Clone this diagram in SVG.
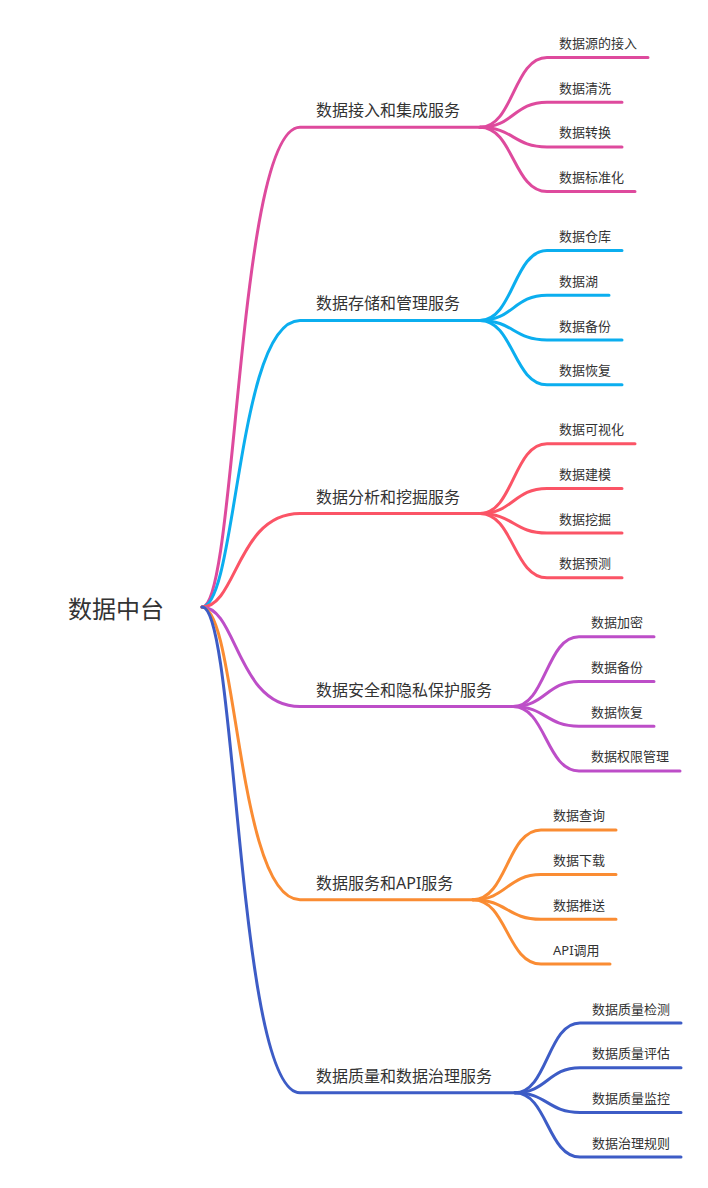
<svg xmlns="http://www.w3.org/2000/svg" width="708" height="1188" viewBox="0 0 708 1188">
<style>
text{font-family:"Noto Sans","Noto Sans CJK SC",sans-serif;fill:#333}
.root{font-size:24px}
.br{font-size:16px}
.lf{font-size:13px}
path{fill:none;stroke-width:3;stroke-linecap:round}
.c1{stroke:#DE4A9D}.c2{stroke:#0BAEEF}.c3{stroke:#FB5466}.c4{stroke:#BD4EC8}.c5{stroke:#FA8C33}.c6{stroke:#3D5CC6}
</style>
<rect width="708" height="1188" fill="#fff"/>
<g id="connectors">
<path class="c1" d="M202,607 C237,607 237,127.3 300,127.3 L480,127.3"/>
<path class="c2" d="M202,607 C237,607 237,320.4 300,320.4 L480,320.4"/>
<path class="c3" d="M202,607 C237,607 237,513.5 300,513.5 L480,513.5"/>
<path class="c4" d="M202,607 C237,607 237,706.6 300,706.6 L513,706.6"/>
<path class="c5" d="M202,607 C237,607 237,899.7 300,899.7 L473,899.7"/>
<path class="c6" d="M202,607 C237,607 237,1092.8 300,1092.8 L515,1092.8"/>

<path class="c1" d="M480,127.3 C513.5,127.3 513.5,57.5 547,57.5 L648,57.5"/>
<path class="c1" d="M480,127.3 C513.5,127.3 513.5,102.2 547,102.2 L622,102.2"/>
<path class="c1" d="M480,127.3 C513.5,127.3 513.5,146.9 547,146.9 L622,146.9"/>
<path class="c1" d="M480,127.3 C513.5,127.3 513.5,191.6 547,191.6 L635,191.6"/>

<path class="c2" d="M480,320.4 C513.5,320.4 513.5,250.6 547,250.6 L622,250.6"/>
<path class="c2" d="M480,320.4 C513.5,320.4 513.5,295.3 547,295.3 L609,295.3"/>
<path class="c2" d="M480,320.4 C513.5,320.4 513.5,340 547,340 L622,340"/>
<path class="c2" d="M480,320.4 C513.5,320.4 513.5,384.7 547,384.7 L622,384.7"/>

<path class="c3" d="M480,513.5 C513.5,513.5 513.5,443.7 547,443.7 L635,443.7"/>
<path class="c3" d="M480,513.5 C513.5,513.5 513.5,488.4 547,488.4 L622,488.4"/>
<path class="c3" d="M480,513.5 C513.5,513.5 513.5,533.1 547,533.1 L622,533.1"/>
<path class="c3" d="M480,513.5 C513.5,513.5 513.5,577.8 547,577.8 L622,577.8"/>

<path class="c4" d="M513,706.6 C546,706.6 546,636.8 579,636.8 L654,636.8"/>
<path class="c4" d="M513,706.6 C546,706.6 546,681.5 579,681.5 L654,681.5"/>
<path class="c4" d="M513,706.6 C546,706.6 546,726.2 579,726.2 L654,726.2"/>
<path class="c4" d="M513,706.6 C546,706.6 546,770.9 579,770.9 L680,770.9"/>

<path class="c5" d="M473,899.7 C507,899.7 507,829.9 541,829.9 L616,829.9"/>
<path class="c5" d="M473,899.7 C507,899.7 507,874.6 541,874.6 L616,874.6"/>
<path class="c5" d="M473,899.7 C507,899.7 507,919.3 541,919.3 L616,919.3"/>
<path class="c5" d="M473,899.7 C507,899.7 507,964 541,964 L610,964"/>

<path class="c6" d="M515,1092.8 C547.5,1092.8 547.5,1023 580,1023 L681,1023"/>
<path class="c6" d="M515,1092.8 C547.5,1092.8 547.5,1067.7 580,1067.7 L681,1067.7"/>
<path class="c6" d="M515,1092.8 C547.5,1092.8 547.5,1112.4 580,1112.4 L681,1112.4"/>
<path class="c6" d="M515,1092.8 C547.5,1092.8 547.5,1157.1 580,1157.1 L681,1157.1"/>
</g>
<g id="root"><text class="root" x="68" y="618">数据中台</text></g>
<g id="b1"><text class="br" x="316" y="116.3">数据接入和集成服务</text></g>
<g id="b2"><text class="br" x="316" y="309.4">数据存储和管理服务</text></g>
<g id="b3"><text class="br" x="316" y="502.5">数据分析和挖掘服务</text></g>
<g id="b4"><text class="br" x="316" y="695.6">数据安全和隐私保护服务</text></g>
<g id="b5"><text class="br" x="316" y="888.7">数据服务和API服务</text></g>
<g id="b6"><text class="br" x="316" y="1081.8">数据质量和数据治理服务</text></g>
<g id="b1-l1"><text class="lf" x="559" y="48">数据源的接入</text></g>
<g id="b1-l2"><text class="lf" x="559" y="92.7">数据清洗</text></g>
<g id="b1-l3"><text class="lf" x="559" y="137.4">数据转换</text></g>
<g id="b1-l4"><text class="lf" x="559" y="182.1">数据标准化</text></g>
<g id="b2-l1"><text class="lf" x="559" y="241.1">数据仓库</text></g>
<g id="b2-l2"><text class="lf" x="559" y="285.8">数据湖</text></g>
<g id="b2-l3"><text class="lf" x="559" y="330.5">数据备份</text></g>
<g id="b2-l4"><text class="lf" x="559" y="375.2">数据恢复</text></g>
<g id="b3-l1"><text class="lf" x="559" y="434.2">数据可视化</text></g>
<g id="b3-l2"><text class="lf" x="559" y="478.9">数据建模</text></g>
<g id="b3-l3"><text class="lf" x="559" y="523.6">数据挖掘</text></g>
<g id="b3-l4"><text class="lf" x="559" y="568.3">数据预测</text></g>
<g id="b4-l1"><text class="lf" x="591" y="627.3">数据加密</text></g>
<g id="b4-l2"><text class="lf" x="591" y="672">数据备份</text></g>
<g id="b4-l3"><text class="lf" x="591" y="716.7">数据恢复</text></g>
<g id="b4-l4"><text class="lf" x="591" y="761.4">数据权限管理</text></g>
<g id="b5-l1"><text class="lf" x="553" y="820.4">数据查询</text></g>
<g id="b5-l2"><text class="lf" x="553" y="865.1">数据下载</text></g>
<g id="b5-l3"><text class="lf" x="553" y="909.8">数据推送</text></g>
<g id="b5-l4"><text class="lf" x="553" y="954.5">API调用</text></g>
<g id="b6-l1"><text class="lf" x="592" y="1013.5">数据质量检测</text></g>
<g id="b6-l2"><text class="lf" x="592" y="1058.2">数据质量评估</text></g>
<g id="b6-l3"><text class="lf" x="592" y="1102.9">数据质量监控</text></g>
<g id="b6-l4"><text class="lf" x="592" y="1147.6">数据治理规则</text></g>
</svg>
